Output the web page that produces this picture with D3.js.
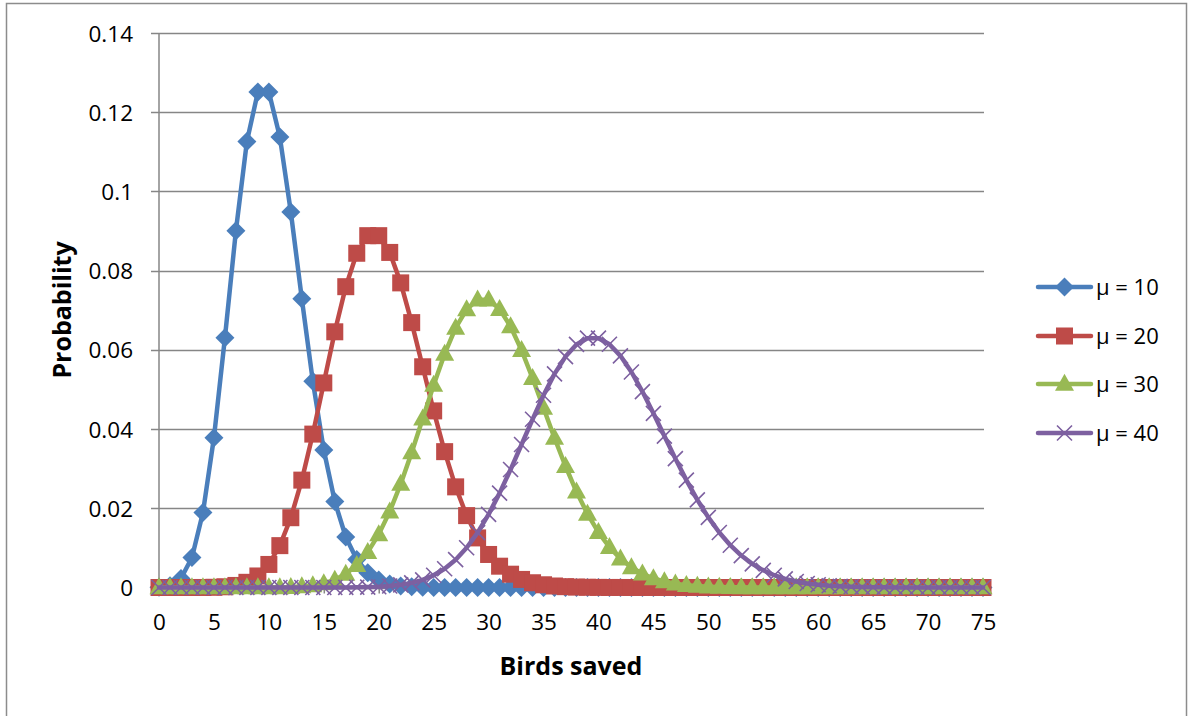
<!DOCTYPE html>
<html>
<head>
<meta charset="utf-8">
<script src="https://cdn.jsdelivr.net/npm/d3@7"></script>
<style>
html,body{margin:0;padding:0;background:#fff;}
svg{display:block;}
</style>
</head>
<body>
<svg id="chart" width="1193" height="716"></svg>
<script>
// ---- data ----
const birdsSaved = d3.range(0, 76); // categories 0..75
const xTickLabels = [0,5,10,15,20,25,30,35,40,45,50,55,60,65,70,75];
const yTickLabels = [0,0.02,0.04,0.06,0.08,0.1,0.12,0.14];
const seriesNames = ["μ = 10","μ = 20","μ = 30","μ = 40"];

const mu10 = [
0.00005,0.00045,0.00227,0.00757,0.01892,0.03783,0.06306,0.09008,0.11260,0.12511,
0.12511,0.11374,0.09478,0.07291,0.05208,0.03472,0.02170,0.01276,0.00709,0.00373,
0.00187,0.00089,0.00040,0.00018,0.00007,0.00003,0.00001,0,0,0,
0,0,0,0,0,0,0,0,0,0,
0,0,0,0,0,0,0,0,0,0,
0,0,0,0,0,0,0,0,0,0,
0,0,0,0,0,0,0,0,0,0,
0,0,0,0,0,0];
const mu20 = [
0,0,0,0,0.00001,0.00005,0.00018,0.00052,0.00131,0.00291,
0.00582,0.01057,0.01762,0.02711,0.03873,0.05165,0.06456,0.07595,0.08439,0.08883,
0.08883,0.08460,0.07691,0.06688,0.05573,0.04459,0.03430,0.02541,0.01815,0.01252,
0.00834,0.00538,0.00336,0.00204,0.00120,0.00069,0.00038,0.00021,0.00011,0.00006,
0.00003,0.00001,0.00001,0,0,0,0,0,0,0,
0,0,0,0,0,0,0,0,0,0,
0,0,0,0,0,0,0,0,0,0,
0,0,0,0,0,0];
const mu30 = [
0,0,0,0,0,0,0,0,0,0.00001,
0.00002,0.00004,0.00010,0.00024,0.00051,0.00103,0.00193,0.00340,0.00566,0.00894,
0.01341,0.01916,0.02613,0.03408,0.04260,0.05112,0.05898,0.06553,0.07022,0.07264,
0.07264,0.07029,0.06590,0.05991,0.05286,0.04531,0.03776,0.03062,0.02417,0.01859,
0.01394,0.01020,0.00729,0.00509,0.00347,0.00231,0.00151,0.00096,0.00060,0.00037,
0.00022,0.00013,0.00008,0.00004,0.00002,0.00001,0.00001,0,0,0,
0,0,0,0,0,0,0,0,0,0,
0,0,0,0,0,0];
const mu40 = [
0,0,0,0,0,0,0,0,0,0,
0,0,0,0,0,0,0.00001,0.00002,0.00005,0.00010,
0.00019,0.00037,0.00067,0.00116,0.00193,0.00308,0.00474,0.00703,0.01004,0.01385,
0.01847,0.02383,0.02978,0.03610,0.04247,0.04854,0.05393,0.05830,0.06137,0.06295,
0.06295,0.06141,0.05849,0.05441,0.04946,0.04397,0.03823,0.03254,0.02711,0.02213,
0.01771,0.01389,0.01068,0.00806,0.00597,0.00434,0.00310,0.00218,0.00150,0.00102,
0.00068,0.00045,0.00029,0.00018,0.00011,0.00007,0.00004,0.00003,0.00001,0.00001,
0.00001,0,0,0,0,0];

const seriesValues = [mu10, mu20, mu30, mu40];
const colors = ["#4A7EBB","#BE4B48","#98B954","#7D60A0"];
const markerTypes = ["diamond","square","triangle","x"];

// ---- chart ----
const svg = d3.select("#chart");
const FONT = "'Open Sans', sans-serif";

svg.append("rect").attr("x",0).attr("y",0).attr("width",1193).attr("height",716).attr("fill","#fff");
svg.append("rect").attr("x",6.5).attr("y",3.5).attr("width",1180).attr("height",730)
  .attr("fill","none").attr("stroke","#8c8c8c").attr("stroke-width",1.5);

const x = d3.scaleLinear().domain([0,75]).range([159,983]);
const y = d3.scaleLinear().domain([0,0.14]).range([587.5,33]);

// gridlines
const grid = svg.append("g");
yTickLabels.forEach(v=>{
  grid.append("line").attr("x1",151).attr("x2",984)
    .attr("y1",Math.round(y(v))+0.5).attr("y2",Math.round(y(v))+0.5)
    .attr("stroke","#868686").attr("stroke-width",1.5);
});

// y axis
const yAxis = d3.axisLeft(y).tickValues(yTickLabels).tickSize(0).tickPadding(0)
  .tickFormat(d=>d===0?"0":String(+d.toFixed(2)));
const yg = svg.append("g").attr("transform","translate(133,0)").call(yAxis);
yg.select(".domain").remove();
yg.selectAll("text").attr("font-family",FONT).attr("font-size",22.5).attr("fill","#000").attr("dy","0.36em");
svg.append("line").attr("x1",159).attr("x2",159).attr("y1",33).attr("y2",588)
  .attr("stroke","#868686").attr("stroke-width",1.5);

// x axis
svg.append("line").attr("x1",159).attr("x2",984).attr("y1",587.5).attr("y2",587.5)
  .attr("stroke","#868686").attr("stroke-width",1.5);
const xAxis = d3.axisBottom(x).tickValues(xTickLabels).tickSize(6).tickPadding(14)
  .tickFormat(d=>String(d));
const xg = svg.append("g").attr("transform","translate(0,587.5)").call(xAxis);
xg.select(".domain").remove();
xg.selectAll("line").attr("stroke","#868686").attr("stroke-width",1.5);
xg.selectAll("text").attr("font-family",FONT).attr("font-size",22.5).attr("fill","#000")
  .attr("y",42.5).attr("dy","0");

// axis titles
svg.append("text").attr("transform","translate(71,310) rotate(-90)")
  .attr("text-anchor","middle").attr("font-family",FONT).attr("font-weight","bold")
  .attr("font-size",25).text("Probability");
svg.append("text").attr("x",571).attr("y",675)
  .attr("text-anchor","middle").attr("font-family",FONT).attr("font-weight","bold")
  .attr("font-size",25).text("Birds saved");

// markers
function drawMarker(g, type, cx, cy, color){
  if(type==="diamond"){
    const r=9.5;
    g.append("path").attr("d",`M${cx},${cy-r}L${cx+r},${cy}L${cx},${cy+r}L${cx-r},${cy}Z`).attr("fill",color);
  } else if(type==="square"){
    const s=17;
    g.append("rect").attr("x",cx-s/2).attr("y",cy-s/2).attr("width",s).attr("height",s).attr("fill",color);
  } else if(type==="triangle"){
    const w=19,h=17;
    g.append("path").attr("d",`M${cx},${cy-h*0.6}L${cx+w/2},${cy+h*0.4}L${cx-w/2},${cy+h*0.4}Z`).attr("fill",color);
  } else {
    const r=7.5;
    g.append("path").attr("d",`M${cx-r},${cy-r}L${cx+r},${cy+r}M${cx-r},${cy+r}L${cx+r},${cy-r}`)
      .attr("stroke",color).attr("stroke-width",1.6).attr("fill","none");
  }
}

const line = d3.line().x((d,i)=>x(birdsSaved[i])).y(d=>y(d));
seriesValues.forEach((vals,si)=>{
  const g = svg.append("g");
  g.append("path").attr("d",line(vals)).attr("fill","none").attr("stroke",colors[si])
    .attr("stroke-width",4.5).attr("stroke-linejoin","round").attr("stroke-linecap","round");
  vals.forEach((v,i)=>drawMarker(g, markerTypes[si], x(birdsSaved[i]), y(v), colors[si]));
});

// legend
const legendY = [287,336,384,433];
seriesNames.forEach((name,si)=>{
  const g = svg.append("g");
  const ly = legendY[si];
  g.append("line").attr("x1",1038).attr("x2",1091).attr("y1",ly).attr("y2",ly)
    .attr("stroke",colors[si]).attr("stroke-width",4.5).attr("stroke-linecap","round");
  drawMarker(g, markerTypes[si], 1064.5, ly, colors[si]);
  g.append("text").attr("x",1096).attr("y",ly).attr("dy","0.36em")
    .attr("font-family",FONT).attr("font-size",22).attr("fill","#000").text(name);
});
</script>
</body>
</html>
